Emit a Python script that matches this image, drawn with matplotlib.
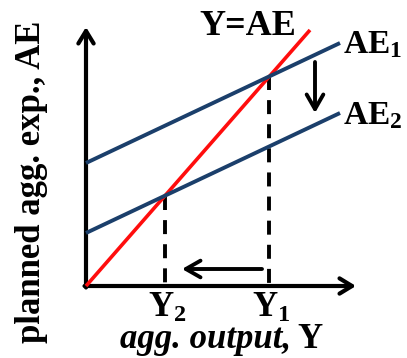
import matplotlib
matplotlib.use('Agg')
import matplotlib.pyplot as plt
import numpy as np

# Keynesian cross: fall in planned spending shifts AE1 down to AE2
line_x = [0, 254]
ae1_y = [123, 243]
ae2_y = [53, 173]
diag_x = [0, 224]
diag_y = [0, 256]

line_labels = ['AE$_1$', 'AE$_2$']
tick_labels = ['Y$_2$', 'Y$_1$']

blue = '#1b3f6b'
red = '#ff0d0d'

plt.rcParams['font.family'] = ['Liberation Serif', 'DejaVu Serif']
plt.rcParams['mathtext.fontset'] = 'custom'
plt.rcParams['mathtext.rm'] = 'Liberation Serif:bold'
plt.rcParams['mathtext.it'] = 'Liberation Serif:bold'

fig = plt.figure(figsize=(4.07, 3.58), dpi=100)
ax = fig.add_axes([0, 0, 1, 1])
ax.set_xlim(-86, 321)
ax.set_ylim(-72, 286)
ax.axis('off')

# axes with arrow heads
arrow_kw = dict(arrowstyle='->,head_length=0.9,head_width=0.55', lw=3, color='black',
                shrinkA=0, shrinkB=0)
ax.annotate('', xy=(0, 259), xytext=(0, -1.5), arrowprops=arrow_kw)
ax.annotate('', xy=(270, 0), xytext=(-1.5, 0), arrowprops=arrow_kw)

# curves
ax.plot(diag_x, diag_y, color=red, lw=2.6, solid_capstyle='butt', zorder=3)
ax.plot(line_x, ae1_y, color=blue, lw=2.8, solid_capstyle='butt', zorder=4)
ax.plot(line_x, ae2_y, color=blue, lw=2.8, solid_capstyle='butt', zorder=4)

# equilibria
slope_d = diag_y[1] / diag_x[1]
eq_x = []
for ys in (ae2_y, ae1_y):
    b = (ys[1] - ys[0]) / (line_x[1] - line_x[0])
    xe = ys[0] / (slope_d - b)
    eq_x.append(xe)
    ax.plot([xe, xe], [slope_d * xe, 0], color='black', lw=2.8, ls=(0, (3.6, 2.6)), zorder=2)

for xe, lab in zip(eq_x, tick_labels):
    ax.text(xe + 2, -31, lab, ha='center', va='baseline', fontsize=25, fontweight='bold')

# labels of lines
ax.text(line_x[1] + 3, ae1_y[1] - 10, line_labels[0], ha='left', va='baseline', fontsize=24, fontweight='bold')
ax.text(line_x[1] + 3, ae2_y[1] - 11, line_labels[1], ha='left', va='baseline', fontsize=24, fontweight='bold')
ax.text(162, 251, 'Y=AE', ha='center', va='baseline', fontsize=26, fontweight='bold')

# shift arrows
shift_kw = dict(arrowstyle='->,head_length=1.05,head_width=0.6', lw=2.8, color='black',
                shrinkA=0, shrinkB=0)
ax.annotate('', xy=(229, 173), xytext=(229, 224), arrowprops=shift_kw)
ax.annotate('', xy=(96, 17), xytext=(176, 17), arrowprops=shift_kw)

# axis titles
ax.text(205, -62, 'agg. output,', ha='right', va='baseline', fontsize=25,
        fontweight='bold', style='italic')
ax.text(211, -62, 'Y', ha='left', va='baseline', fontsize=25, fontweight='bold')
ax.text(-54, 104, 'planned agg. exp., AE', ha='center', va='center', rotation=90,
        fontsize=25, fontweight='bold')

fig.savefig('out.png', dpi=100)
plt.close()
